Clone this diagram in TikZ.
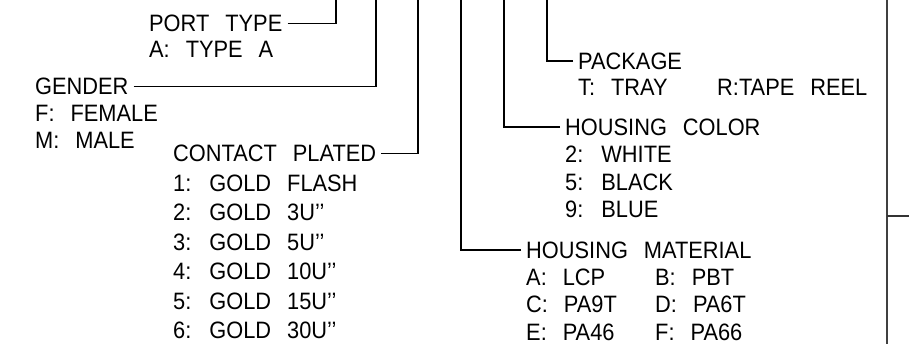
\documentclass[tikz,border=0pt]{standalone}
\usepackage{fontspec}
\newfontfamily\cadfont[FakeStretch=0.92]{Liberation Sans}
\newcommand\cadtext{\cadfont\fontsize{23.7pt}{27pt}\selectfont\spaceskip=16pt\relax}
\usetikzlibrary{positioning}

\begin{document}
\begin{tikzpicture}[
		x=1pt, y=-1pt,
		every node/.style={
			font=\cadtext,
			inner xsep=5pt,
			inner ysep=0pt
		},
		title/.style={anchor=west, text height=17pt, text depth=0pt},
		item/.style={anchor=base west},
		leader/.style={line width=1.8pt, line join=miter},
		frame/.style={line width=2.4pt, black!75}
	]
	\useasboundingbox (0,0) rectangle (909,344);

	% Top ends of the leaders
	\coordinate (porttop) at (336,0);
	\coordinate (gendertop) at (376,0);
	\coordinate (contacttop) at (418,0);
	\coordinate (materialtop) at (461,0);
	\coordinate (colortop) at (504,0);
	\coordinate (packagetop) at (547,0);

	% Titles
	\node[title] (port) at (144,23.5) {PORT TYPE};
	\node[title] (gender) at (30,86.5) {GENDER};
	\node[title] (contact) at (168,153.5) {CONTACT PLATED};
	\node[title] (package) at (573,61) {PACKAGE};
	\node[title] (color) at (560,127) {HOUSING COLOR};
	\node[title] (material) at (521,250) {HOUSING MATERIAL};

	% Options
	\node[item] (port1) at ([yshift=-26pt]port.base west) {A: TYPE A};
	\foreach \txt [count=\i] in {F: FEMALE, M: MALE}
		\node[item] (gender\i) at ([yshift=-\i*27pt]gender.base west) {\txt};
	\foreach \txt [count=\i] in {1: GOLD FLASH, 2: GOLD 3U’’, 3: GOLD 5U’’,
			4: GOLD 10U’’, 5: GOLD 15U’’, 6: GOLD 30U’’}
		\node[item] (contact\i) at ([yshift=-\i*29.4pt]contact.base west) {\txt};
	\node[item] (package1) at ([yshift=-26.5pt]package.base west)
		{\makebox[139pt][l]{T: TRAY}R:TAPE REEL};
	\foreach \txt [count=\i] in {2: WHITE, 5: BLACK, 9: BLUE}
		\node[item] (color\i) at ([yshift=-\i*27.3pt]color.base west) {\txt};
	\foreach \a/\b [count=\i] in {A: LCP/B: PBT, C: PA9T/D: PA6T, E: PA46/F: PA66}
		\node[item] (material\i) at ([yshift=-\i*27.2pt]material.base west)
			{\makebox[129pt][l]{\a}\b};

	% Leaders
	\draw[leader] (port.east) -| (porttop);
	\draw[leader] (gender.east) -| (gendertop);
	\draw[leader] (contact.east) -| (contacttop);
	\draw[leader] (package.west) -| (packagetop);
	\draw[leader] (color.west) -| (colortop);
	\draw[leader] (material.west) -| (materialtop);

	% Frame edge on the right
	\coordinate (frametop) at (887,0);
	\coordinate (framebottom) at (887,344);
	\coordinate (stubleft) at (887,216);
	\coordinate (stubright) at (909,216);
	\draw[frame] (frametop) -- (framebottom);
	\draw[line width=1.4pt, black!80] (stubleft) -- (stubright);
\end{tikzpicture}
\end{document}
